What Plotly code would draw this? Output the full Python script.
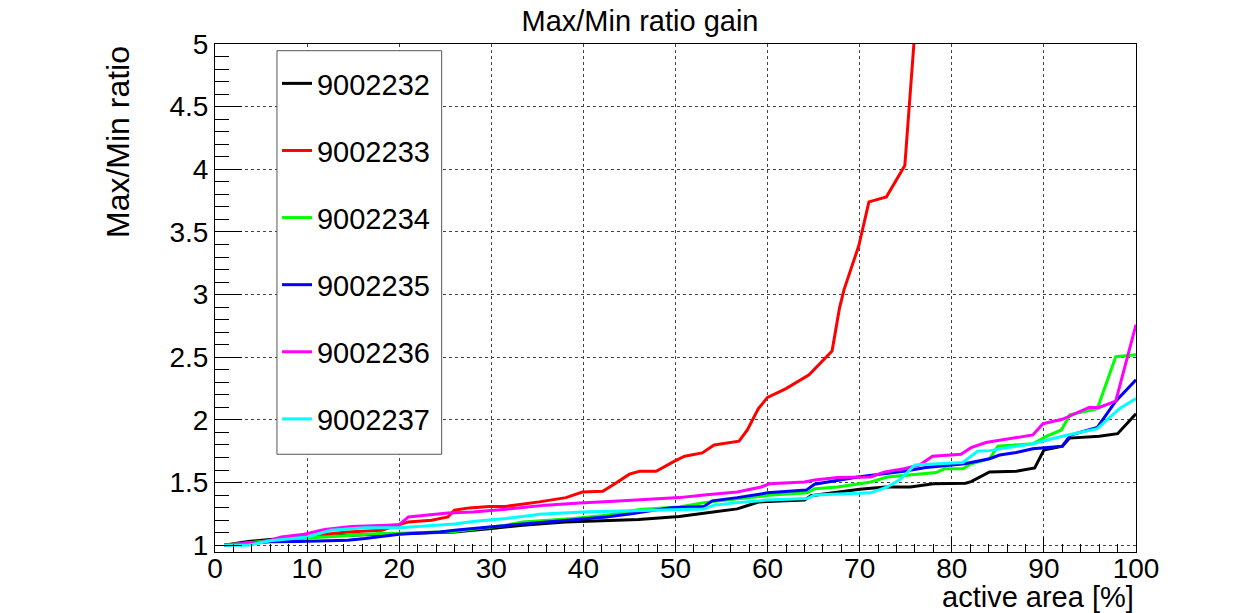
import plotly.graph_objects as go

# Series names (module serial numbers)
names = ["9002232", "9002233", "9002234", "9002235", "9002236", "9002237"]
colors = ["#000000", "#ff0000", "#00ff00", "#0000ff", "#ff00ff", "#00ffff"]

# active area [%] and Max/Min ratio for each module
x_9002232 = [1, 3.6, 6, 10, 14.4, 20, 26, 30, 33.4, 38, 42.5, 46, 50.4, 54, 56.7, 59,
             64, 64.7, 70, 72.8, 75.5, 78, 81.5, 82.1, 84.1, 87, 89, 90, 92, 92.8, 96, 98, 100]
y_9002232 = [1.0, 1.03, 1.045, 1.066, 1.08, 1.09, 1.106, 1.133, 1.16, 1.186, 1.2, 1.205, 1.23,
             1.265, 1.29, 1.345, 1.36, 1.395, 1.447, 1.465, 1.465, 1.49, 1.495, 1.508, 1.585,
             1.59, 1.617, 1.76, 1.79, 1.855, 1.87, 1.89, 2.05]

x_9002233 = [1, 5, 8, 10.8, 14.4, 18.1, 20, 21, 23.5, 25.3, 26, 27.6, 29.8, 31.6, 35.2, 38.1,
             39.9, 42.1, 43.2, 45, 46.1, 47.9, 50, 51, 52.9, 54.2, 56.9, 57.8, 59, 60, 62,
             64.5, 67, 67.8, 68.3, 69.9, 71, 72.9, 74.9, 77]
y_9002233 = [1.0, 1.03, 1.05, 1.077, 1.106, 1.12, 1.16, 1.186, 1.2, 1.226, 1.28, 1.298, 1.31,
             1.31, 1.346, 1.38, 1.425, 1.43, 1.48, 1.567, 1.59, 1.59, 1.675, 1.71, 1.737, 1.80,
             1.83, 1.92, 2.09, 2.18, 2.25, 2.36, 2.55, 2.89, 3.04, 3.39, 3.74, 3.78, 4.03, 6.1]

x_9002234 = [1, 5, 10, 14.4, 18, 20, 26, 31.6, 33.4, 38.9, 42.5, 46.1, 50.4, 53.1, 60.4, 64.3,
             65.1, 67.6, 71.2, 73, 75, 78.3, 79.2, 81.2, 82.1, 84.1, 85, 88.8, 90.3, 91.9,
             92.8, 95.8, 97.8, 100]
y_9002234 = [1.0, 1.03, 1.058, 1.08, 1.093, 1.095, 1.11, 1.16, 1.186, 1.213, 1.24, 1.285, 1.306,
             1.34, 1.40, 1.418, 1.45, 1.465, 1.505, 1.545, 1.56, 1.58, 1.61, 1.61, 1.65, 1.69,
             1.79, 1.81, 1.87, 1.92, 2.04, 2.09, 2.505, 2.52]

x_9002235 = [1, 6, 9, 14.4, 16.3, 20, 24.4, 26, 29.8, 33.8, 38.9, 42.5, 45.4, 49.5, 53.1, 54,
             56.7, 60, 64.2, 65.1, 69.8, 72.7, 74.8, 77.2, 81.4, 84.1, 85.2, 87, 88.8, 92,
             92.9, 95.8, 97.8, 100]
y_9002235 = [1.0, 1.027, 1.03, 1.04, 1.053, 1.088, 1.106, 1.12, 1.146, 1.173, 1.205, 1.226,
             1.253, 1.30, 1.31, 1.354, 1.38, 1.418, 1.44, 1.487, 1.545, 1.57, 1.59, 1.62, 1.65,
             1.69, 1.72, 1.74, 1.77, 1.79, 1.88, 1.94, 2.15, 2.32]

x_9002236 = [1, 5.4, 7.2, 9.7, 11.9, 14.8, 18.8, 20, 21, 25.3, 28, 31.6, 35.9, 39.6, 44.3, 50.4,
             53.1, 56.7, 59.3, 60.2, 64, 65.1, 67.6, 71.2, 72.7, 74.8, 76.5, 77.9, 81, 82.1,
             83.7, 88.8, 89.9, 92, 94.9, 96, 97.8, 100]
y_9002236 = [1.0, 1.027, 1.066, 1.088, 1.125, 1.15, 1.16, 1.165, 1.226, 1.258, 1.266, 1.287,
             1.32, 1.338, 1.354, 1.38, 1.40, 1.425, 1.465, 1.49, 1.505, 1.52, 1.54, 1.545,
             1.585, 1.61, 1.64, 1.71, 1.726, 1.78, 1.82, 1.88, 1.97, 2.005, 2.10, 2.10, 2.15, 2.76]

x_9002237 = [1, 3.6, 6, 10, 12.6, 16.3, 20, 26, 28, 31.6, 34.5, 35.2, 39.9, 44.6, 50, 53.1,
             54.2, 56.7, 60, 64.3, 65.1, 71.2, 73, 74.3, 76, 81.2, 82.8, 84.1, 88.8, 92, 95.8,
             98.2, 100]
y_9002237 = [1.0, 1.0, 1.035, 1.066, 1.12, 1.14, 1.14, 1.17, 1.19, 1.213, 1.24, 1.247, 1.266,
             1.275, 1.28, 1.29, 1.32, 1.34, 1.36, 1.372, 1.40, 1.418, 1.465, 1.52, 1.64, 1.66,
             1.75, 1.755, 1.81, 1.87, 1.93, 2.09, 2.17]

xs = [x_9002232, x_9002233, x_9002234, x_9002235, x_9002236, x_9002237]
ys = [y_9002232, y_9002233, y_9002234, y_9002235, y_9002236, y_9002237]

FONT = "Liberation Sans, Arial, Helvetica, sans-serif"

fig = go.Figure()
for name, color, xv, yv in zip(names, colors, xs, ys):
    fig.add_trace(go.Scatter(
        x=xv, y=yv, mode="lines", name=name, legendgroup=name,
        line=dict(color=color, width=3),
    ))

axis_common = dict(
    showline=True, linecolor="black", linewidth=1, mirror=True,
    ticks="inside", tickcolor="black", tickwidth=1,
    showgrid=True, gridcolor="#444444", gridwidth=1, griddash="dot",
    zeroline=False,
    tickfont=dict(family=FONT, size=28, color="black"),
)

fig.update_xaxes(
    range=[0, 100], tick0=0, dtick=10, ticklen=15, ticklabelstandoff=-9,
    minor=dict(dtick=2, ticks="inside", ticklen=8, tickcolor="black", showgrid=False),
    **axis_common,
)
fig.update_yaxes(
    range=[0.946, 5], tick0=0, dtick=0.5, ticklen=27,
    minor=dict(dtick=0.1, ticks="inside", ticklen=14, tickcolor="black", showgrid=False),
    tickformat="~g",
    **axis_common,
)

# Legend frame (the legend itself is drawn borderless inside it)
legend_box = dict(type="rect", xref="paper", yref="paper",
                  x0=0.0673, x1=0.2461, y0=0.1924, y1=0.9868,
                  line=dict(color="#555555", width=1), fillcolor="white", layer="above")

fig.update_layout(
    width=1237, height=613,
    margin=dict(l=215, r=101, t=44, b=61),
    paper_bgcolor="white", plot_bgcolor="white",
    font=dict(family=FONT, color="black"),
    title=dict(text="Max/Min ratio gain", font=dict(family=FONT, size=29, color="black"),
               xref="container", x=640 / 1237, xanchor="center",
               yref="container", y=1 - 21 / 613, yanchor="middle"),
    shapes=[legend_box],
    legend=dict(
        x=0.0673, y=0.9724, xanchor="left", yanchor="top",
        bgcolor="rgba(0,0,0,0)", borderwidth=0,
        font=dict(family=FONT, size=29, color="black"),
        traceorder="grouped", tracegroupgap=26.4,
    ),
    annotations=[
        dict(text="active area [%]", xref="paper", yref="paper", x=1.0, y=-0.089,
             xanchor="right", yanchor="middle", showarrow=False,
             font=dict(family=FONT, size=29, color="black")),
        dict(text="Max/Min ratio", xref="paper", yref="paper", x=-0.1053, y=1.0,
             xanchor="center", yanchor="top", textangle=-90, showarrow=False,
             font=dict(family=FONT, size=32, color="black")),
    ],
)

fig.write_html("out.html")
